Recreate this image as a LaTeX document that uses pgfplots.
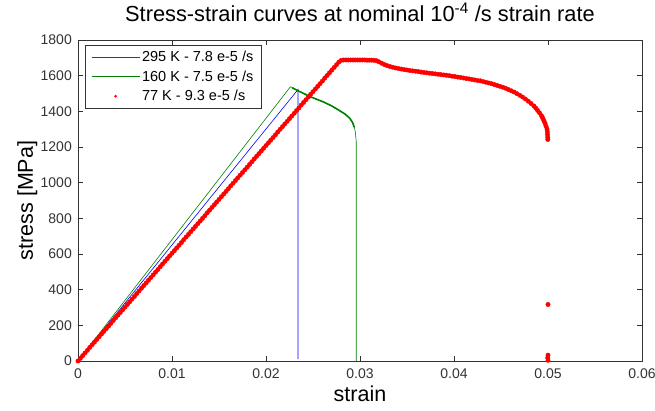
\documentclass[border=0pt]{standalone}
\usepackage{fontspec}
\setmainfont{Liberation Sans}
\usepackage{pgfplots}
\pgfplotsset{compat=1.18}
\definecolor{mgreen}{rgb}{0,0.5,0}
\definecolor{mblue}{rgb}{0.15,0.15,1}
\begin{document}
\begin{tikzpicture}
\useasboundingbox (-78pt,-49pt) rectangle (577pt,361pt);
\begin{axis}[
  at={(0pt,0pt)}, anchor=south west,
  scale only axis, width=564pt, height=321pt,
  xmin=0, xmax=0.06, ymin=0, ymax=1800,
  scaled x ticks=false, scaled y ticks=false,
  xtick={0,0.01,0.02,0.03,0.04,0.05,0.06},
  xticklabels={0,0.01,0.02,0.03,0.04,0.05,0.06},
  ytick={0,200,400,600,800,1000,1200,1400,1600,1800},
  yticklabels={0,200,400,600,800,1000,1200,1400,1600,1800},
  tick align=inside, major tick length=5pt,
  tick style={black!80, line width=0.5pt},
  axis line style={black!80, line width=0.6pt},
  tick label style={font=\fontsize{14}{16}\selectfont, text=black!80, inner sep=0pt},
  xticklabel style={anchor=base, yshift=-17pt},
  yticklabel style={anchor=east, xshift=-6pt},
  title={Stress-strain curves at nominal 10\textsuperscript{-4} /s strain rate},
  title style={font=\fontsize{21.8}{24}\selectfont, at={(axis description cs:0.5,1.0405)}, anchor=base, inner sep=0pt},
  xlabel={strain}, ylabel={stress [MPa]},
  xlabel style={font=\fontsize{21.5}{24}\selectfont, at={(axis description cs:0.5,-0.1277)}, anchor=base, inner sep=0pt},
  ylabel style={font=\fontsize{21.5}{24}\selectfont, at={(axis description cs:-0.0798,0.5)}, anchor=base, rotate=0, inner sep=0pt},
  legend cell align=left,
  legend style={at={(axis description cs:0,1)}, anchor=north west, xshift=7pt, yshift=-5pt,
    draw=none, name=leg, font=\fontsize{14.5}{17}\selectfont,
    inner xsep=6pt, inner ysep=4pt, row sep=3.5pt},
]
\addplot[draw=blue, line width=0.6pt,
  legend image code/.code={\draw[draw=mblue, line width=0.9pt] (0pt,0pt) -- (48pt,0pt);}]
  coordinates {(0,0) (0.0234,1522) (0.0234,10)};
\addlegendentry{295 K - 7.8 e-5 /s}
\addplot[draw=mgreen, line width=0.6pt,
  legend image code/.code={\draw[draw=mgreen, line width=0.9pt] (0pt,0pt) -- (48pt,0pt);}]
  coordinates {(0,0) (0.0226,1538) (0.0234,1516) (0.0247,1482) (0.0261,1453) (0.0270,1430) (0.0278,1405) (0.0284,1385) (0.0289,1362) (0.0292,1338) (0.0294,1310) (0.0295,1285) (0.0296,1230) (0.0296,0)};
\addlegendentry{160 K - 7.5 e-5 /s}
\addplot[draw=mgreen, line width=1.6pt, forget plot] coordinates {(0.0228,1532) (0.0234,1516) (0.0247,1482) (0.0261,1453) (0.0270,1430) (0.0278,1405) (0.0284,1385) (0.0289,1362) (0.0292,1338) (0.0294,1310)};
\addplot[red, only marks, mark=*, mark size=2.2pt, mark options={draw=none, fill=red},
  legend image code/.code={\path[draw=none, fill=red] (24pt,0pt) circle (1.5pt); \path[draw=none, fill=none] (0pt,0pt) rectangle (48pt,0.1pt);}] table {
x y
0 0
0.00025 15
0.0005 30
0.00075 45
0.001 60
0.00125 76
0.0015 91
0.00175 106
0.002 121
0.00225 136
0.0025 151
0.00275 166
0.003 181
0.00325 196
0.0035 211
0.00375 227
0.004 242
0.00425 257
0.0045 272
0.00475 287
0.005 302
0.00525 317
0.0055 332
0.00575 347
0.006 362
0.00625 378
0.0065 393
0.00675 408
0.007 423
0.00725 438
0.0075 453
0.00775 468
0.008 483
0.00825 498
0.0085 513
0.00875 529
0.009 544
0.00925 559
0.0095 574
0.00975 589
0.01 604
0.01025 619
0.0105 634
0.01075 649
0.011 664
0.01125 680
0.0115 695
0.01175 710
0.012 725
0.01225 740
0.0125 755
0.01275 770
0.013 785
0.01325 800
0.0135 815
0.01375 831
0.014 846
0.01425 861
0.0145 876
0.01475 891
0.015 906
0.01525 921
0.0155 936
0.01575 951
0.016 966
0.01625 982
0.0165 997
0.01675 1012
0.017 1027
0.01725 1042
0.0175 1057
0.01775 1072
0.018 1087
0.01825 1102
0.0185 1117
0.01875 1133
0.019 1148
0.01925 1163
0.0195 1178
0.01975 1193
0.02 1208
0.02025 1223
0.0205 1238
0.02075 1253
0.021 1268
0.02125 1284
0.0215 1299
0.02175 1314
0.022 1329
0.02225 1344
0.0225 1359
0.02275 1374
0.023 1389
0.02325 1404
0.0235 1419
0.02375 1435
0.024 1450
0.02425 1465
0.0245 1480
0.02475 1495
0.025 1510
0.02525 1525
0.0255 1540
0.02575 1555
0.026 1570
0.02625 1586
0.0265 1601
0.02675 1616
0.027 1631
0.02725 1646
0.0275 1661
0.02775 1676
0.028 1686
0.02825 1688
0.0285 1688
0.02875 1688
0.029 1688
0.02925 1688
0.0295 1688
0.02975 1688
0.03 1688
0.03025 1688
0.0305 1688
0.03075 1687
0.031 1687
0.03125 1687
0.0315 1686
0.03175 1684
0.0320 1678
0.0323 1670
0.0326 1662
0.0329 1656
0.0332 1651
0.0335 1647
0.0338 1643
0.0341 1640
0.0344 1637
0.0347 1634
0.0350 1632
0.0353 1629
0.0356 1627
0.0359 1625
0.0362 1623
0.0365 1620
0.0368 1618
0.0371 1616
0.0374 1614
0.0377 1612
0.0380 1610
0.0383 1608
0.0386 1606
0.0389 1604
0.0392 1602
0.0395 1600
0.0398 1597
0.0401 1595
0.0404 1592
0.0407 1590
0.0410 1587
0.0413 1584
0.0416 1582
0.0419 1579
0.0422 1576
0.0425 1573
0.0428 1571
0.0431 1567
0.0434 1563
0.0437 1559
0.0440 1555
0.0443 1550
0.0446 1545
0.0449 1540
0.0452 1535
0.0455 1529
0.0458 1522
0.0461 1515
0.0464 1508
0.0467 1499
0.0470 1490
0.0473 1480
0.0476 1469
0.0479 1457
0.0482 1444
0.0485 1430
0.0487 1418
0.0489 1405
0.0491 1391
0.0493 1376
0.0494 1366
0.0495 1355
0.0496 1343
0.0497 1330
0.0498 1315
0.0499 1300
0.04993 1285
0.04995 1270
0.04997 1255
0.04998 1242
0.05 317
0.05 33
0.04997 18
0.05 4
};
\addlegendentry{77 K - 9.3 e-5 /s}
\end{axis}
\draw[black!80, line width=0.6pt] (leg.south west) rectangle (leg.north east);
\end{tikzpicture}
\end{document}
